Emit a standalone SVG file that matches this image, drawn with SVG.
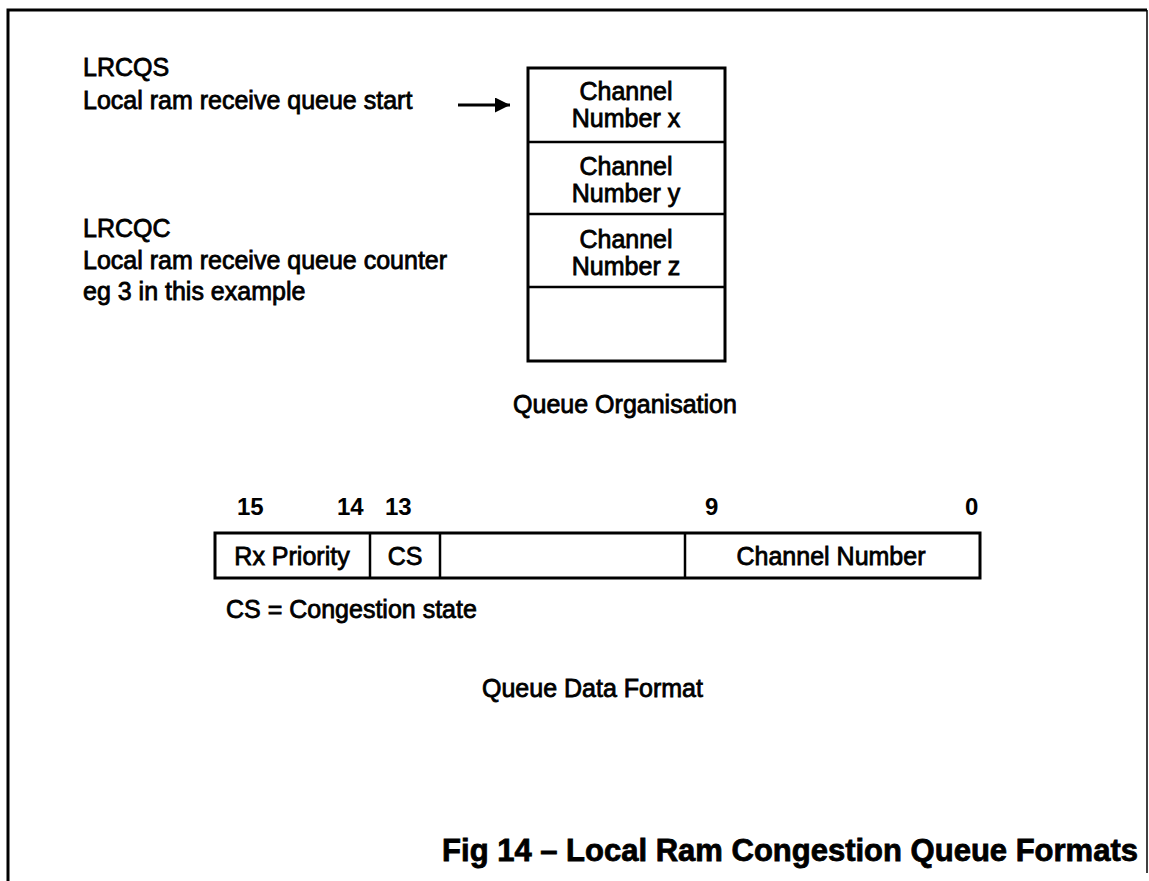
<svg xmlns="http://www.w3.org/2000/svg" width="1149" height="881" viewBox="0 0 1149 881">
  <style>
    .t { font-family: "Liberation Sans", Arial, sans-serif; font-size: 25px; fill: #000; stroke: #000; stroke-width: 0.8px; }
    .c { text-anchor: middle; }
    .n { font-family: "Liberation Sans", Arial, sans-serif; font-size: 24px; font-weight: bold; fill: #000; }
    .title { font-family: "Liberation Sans", Arial, sans-serif; font-size: 31px; font-weight: bold; fill: #000; stroke: #000; stroke-width: 0.8px; text-anchor: end; }
    .box { fill: #fff; stroke: #000; stroke-width: 3; }
    .div { stroke: #000; stroke-width: 2.5; fill: none; }
    .frame { stroke: #000; stroke-width: 3; fill: none; }
  </style>
  <defs>
    <marker id="ah" viewBox="0 0 10 10" refX="10" refY="5" markerWidth="6" markerHeight="5" markerUnits="strokeWidth" orient="auto">
      <path d="M0,0 L10,5 L0,10 Z" fill="#000"/>
    </marker>
  </defs>
  <rect width="1149" height="881" fill="#fff"/>

  <g id="frame">
    <path class="frame" d="M8,881 L8,10 L1147,10"/>
    <line x1="1147" y1="10" x2="1147" y2="873" stroke="#000" stroke-width="1.5"/>
  </g>

  <g id="labels-left">
    <text class="t" x="83" y="76">LRCQS</text>
    <text class="t" x="83" y="109">Local ram receive queue start</text>
    <text class="t" x="83" y="237">LRCQC</text>
    <text class="t" x="83" y="269">Local ram receive queue counter</text>
    <text class="t" x="83" y="300">eg 3 in this example</text>
  </g>

  <g id="connectors">
    <line x1="458" y1="105" x2="510" y2="105" stroke="#000" stroke-width="3" marker-end="url(#ah)"/>
  </g>

  <g id="queue">
    <rect class="box" x="528" y="68" width="197" height="293"/>
    <g id="q-x">
      <line class="div" x1="528" y1="142" x2="725" y2="142"/>
      <text class="t c" x="626" y="100">Channel</text>
      <text class="t c" x="626" y="127">Number x</text>
    </g>
    <g id="q-y">
      <line class="div" x1="528" y1="214" x2="725" y2="214"/>
      <text class="t c" x="626" y="175">Channel</text>
      <text class="t c" x="626" y="202">Number y</text>
    </g>
    <g id="q-z">
      <line class="div" x1="528" y1="287" x2="725" y2="287"/>
      <text class="t c" x="626" y="248">Channel</text>
      <text class="t c" x="626" y="275">Number z</text>
    </g>
    <g id="q-empty"></g>
  </g>
  <text id="queue-caption" class="t c" x="625" y="413">Queue Organisation</text>

  <g id="bit-numbers">
    <text class="n" x="237" y="515">15</text>
    <text class="n" x="337" y="515">14</text>
    <text class="n" x="385" y="515">13</text>
    <text class="n" x="705" y="515">9</text>
    <text class="n" x="965" y="515">0</text>
  </g>

  <g id="data-format">
    <rect class="box" x="215" y="533" width="765" height="45"/>
    <g id="f-rx">
      <text class="t c" x="292" y="565">Rx Priority</text>
    </g>
    <g id="f-cs">
      <line class="div" x1="370" y1="533" x2="370" y2="578"/>
      <text class="t c" x="405" y="565">CS</text>
    </g>
    <g id="f-reserved">
      <line class="div" x1="440" y1="533" x2="440" y2="578"/>
    </g>
    <g id="f-channel">
      <line class="div" x1="685" y1="533" x2="685" y2="578"/>
      <text class="t c" x="831" y="565">Channel Number</text>
    </g>
  </g>

  <text id="cs-legend" class="t" x="226" y="618">CS = Congestion state</text>
  <text id="format-caption" class="t" x="482" y="697">Queue Data Format</text>

  <text id="fig-title" class="title" x="1138" y="861">Fig 14 – Local Ram Congestion Queue Formats</text>
</svg>
